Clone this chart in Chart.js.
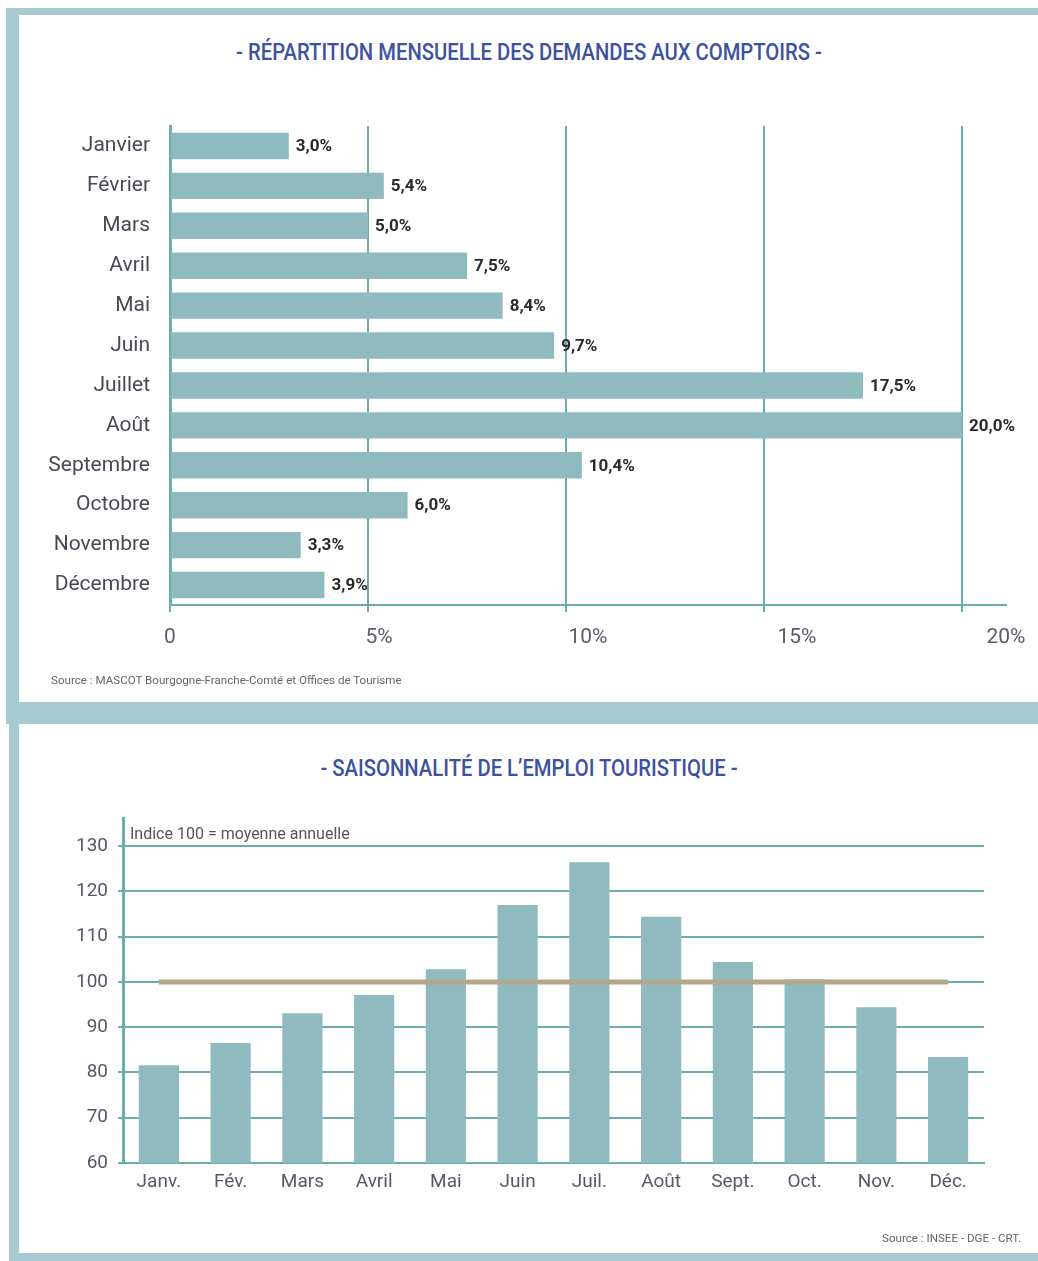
<!DOCTYPE html>
<html lang="fr">
<head>
<meta charset="utf-8">
<script src="https://cdn.jsdelivr.net/npm/chart.js@4"></script>
<style>
    html, body {
        margin: 0;
        padding: 0;
        background: #ffffff;
    }
    body {
        position: relative;
        width: 1038px;
        height: 1261px;
        overflow: hidden;
        font-family: "Roboto", sans-serif;
    }
    .frame {
        position: absolute;
        background: #a7c9d1;
    }
    .title {
        position: absolute;
        left: 20px;
        width: 1018px;
        text-align: center;
        color: #3d52a0;
        font-size: 23px;
        font-weight: 500;
        transform: scaleX(0.88);
    }
    .source {
        position: absolute;
        font-size: 11.6px;
        color: #666666;
    }
    .note {
        position: absolute;
        font-size: 16px;
        color: #555555;
    }
    canvas {
        position: absolute;
    }
</style>
</head>
<body>
<div class="frame" style="left:6px; top:8px; width:1032px; height:7px;"></div>
<div class="frame" style="left:6px; top:8px; width:13px; height:708px;"></div>
<div class="frame" style="left:6px; top:702px; width:1032px; height:22px;"></div>
<div class="frame" style="left:9px; top:716px; width:10px; height:545px;"></div>
<div class="frame" style="left:9px; top:1253px; width:1029px; height:8px;"></div>

<div class="title" style="top:39px;">- RÉPARTITION MENSUELLE DES DEMANDES AUX COMPTOIRS -</div>
<canvas id="counterChart" width="1018" height="684" style="left:20px; top:16px;"></canvas>
<div class="source" style="left:51px; top:673px;">Source : MASCOT Bourgogne-Franche-Comté et Offices de Tourisme</div>

<div class="title" style="top:755px;">- SAISONNALITÉ DE L’EMPLOI TOURISTIQUE -</div>
<canvas id="seasonChart" width="1018" height="526" style="left:20px; top:726px;"></canvas>
<div class="note" style="left:130px; top:824px;">Indice 100 = moyenne annuelle</div>
<div class="source" style="right:17px; top:1231px;">Source : INSEE - DGE - CRT.</div>

<script>
const monthLabels = ["Janvier", "Février", "Mars", "Avril", "Mai", "Juin", "Juillet", "Août", "Septembre", "Octobre", "Novembre", "Décembre"];
const counterShares = [3.0, 5.4, 5.0, 7.5, 8.4, 9.7, 17.5, 20.0, 10.4, 6.0, 3.3, 3.9];
const shareTicks = [0, 5, 10, 15, 20];

const shortMonths = ["Janv.", "Fév.", "Mars", "Avril", "Mai", "Juin", "Juil.", "Août", "Sept.", "Oct.", "Nov.", "Déc."];
const employmentIndex = [81.6, 86.5, 93.1, 97.1, 102.8, 117.0, 126.4, 114.4, 104.4, 100.6, 94.4, 83.4];
const averageIndex = [100, 100, 100, 100, 100, 100, 100, 100, 100, 100, 100, 100];
const indexTicks = [60, 70, 80, 90, 100, 110, 120, 130];

const barColor = "#8fbbc0";
const gridColor = "#6aaeb2";
const labelFont = "\"Roboto\", sans-serif";

Chart.defaults.font.family = labelFont;

function formatShare(value) {
    return value.toFixed(1).replace(".", ",") + "%";
}

// writes the value to the right of each horizontal bar
const barValueLabels = {
    id: "barValueLabels",
    afterDatasetsDraw(chart) {
        const ctx = chart.ctx;
        const meta = chart.getDatasetMeta(0);
        ctx.save();
        ctx.font = "bold 17px " + labelFont;
        ctx.fillStyle = "#2a2a2a";
        ctx.textAlign = "left";
        ctx.textBaseline = "middle";
        meta.data.forEach((bar, i) => {
            ctx.fillText(formatShare(counterShares[i]), bar.x + 7, bar.y + 1);
        });
        ctx.restore();
    }
};

new Chart(document.getElementById("counterChart"), {
    type: "bar",
    data: {
        labels: monthLabels,
        datasets: [
            {
                data: counterShares,
                backgroundColor: barColor,
                barPercentage: 0.66,
                categoryPercentage: 1.0,
                xAxisID: "x"
            }
        ]
    },
    options: {
        indexAxis: "y",
        responsive: false,
        animation: false,
        devicePixelRatio: 1,
        layout: {
            padding: { left: 0, right: 32, top: 110, bottom: 44 }
        },
        plugins: {
            legend: { display: false },
            tooltip: { enabled: false }
        },
        scales: {
            y: {
                grid: { display: false },
                border: { display: true, color: gridColor, width: 3 },
                ticks: {
                    color: "#474a55",
                    font: { size: 21 },
                    padding: 12
                },
                afterFit: (scale) => { scale.width = 150; }
            },
            x: {
                type: "linear",
                position: "bottom",
                weight: 0,
                min: 0,
                max: 21.11,
                afterBuildTicks: (scale) => { scale.ticks = shareTicks.map((v) => ({ value: v })); },
                grid: { color: gridColor, lineWidth: 2, tickLength: 7 },
                border: { display: true, color: gridColor, width: 2 },
                ticks: { display: false },
                afterFit: (scale) => { scale.height = 7; }
            },
            xLabels: {
                type: "linear",
                position: "bottom",
                weight: 1,
                min: 0,
                max: 20,
                afterBuildTicks: (scale) => { scale.ticks = shareTicks.map((v) => ({ value: v })); },
                grid: { display: false },
                border: { display: false },
                ticks: {
                    color: "#5a5e6a",
                    font: { size: 21 },
                    padding: 5,
                    maxRotation: 0,
                    callback: (value) => (value === 0 ? "0" : value + "%")
                },
                afterFit: (scale) => { scale.height = 44; }
            }
        }
    },
    plugins: [barValueLabels]
});

new Chart(document.getElementById("seasonChart"), {
    type: "bar",
    data: {
        labels: shortMonths,
        datasets: [
            {
                type: "line",
                data: averageIndex,
                borderColor: "#b3a88c",
                borderWidth: 5,
                borderCapStyle: "butt",
                pointRadius: 0,
                order: 0
            },
            {
                type: "bar",
                data: employmentIndex,
                backgroundColor: barColor,
                barPercentage: 0.56,
                categoryPercentage: 1.0,
                order: 1
            }
        ]
    },
    options: {
        responsive: false,
        animation: false,
        devicePixelRatio: 1,
        layout: {
            padding: { left: 0, right: 54, top: 92, bottom: 49 }
        },
        plugins: {
            legend: { display: false },
            tooltip: { enabled: false }
        },
        scales: {
            x: {
                grid: { display: false },
                border: { display: true, color: gridColor, width: 2 },
                ticks: {
                    color: "#555866",
                    font: { size: 19 },
                    padding: 0,
                    maxRotation: 0,
                    autoSkip: false
                },
                afterFit: (scale) => { scale.height = 40; }
            },
            y: {
                min: 60,
                max: 136.2,
                afterBuildTicks: (scale) => { scale.ticks = indexTicks.map((v) => ({ value: v })); },
                grid: { color: gridColor, lineWidth: 2, tickLength: 5 },
                border: { display: true, color: gridColor, width: 3 },
                ticks: {
                    color: "#555866",
                    font: { size: 19 },
                    padding: 10
                },
                afterFit: (scale) => { scale.width = 103; }
            }
        }
    }
});
</script>
</body>
</html>
